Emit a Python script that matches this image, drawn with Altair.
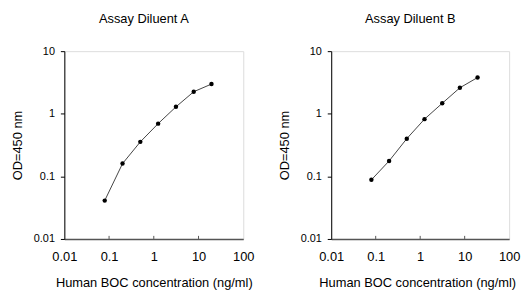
import altair as alt
import pandas as pd

conc = [0.08, 0.2, 0.5, 1.25, 3.13, 7.81, 19.5]
od_a = [0.041, 0.16, 0.356, 0.695, 1.29, 2.25, 2.98]
od_b = [0.088, 0.176, 0.40, 0.82, 1.47, 2.6, 3.79]
x_ticks = [0.01, 0.1, 1, 10, 100]
y_ticks = [0.01, 0.1, 1, 10]
inner_ticks = [0.1, 1, 10]

FONT = "Liberation Sans"


def panel(title, od, width, title_shift):
    df = pd.DataFrame({"conc": conc, "od": od})
    xs = alt.Scale(type="log", domain=[0.01, 100], nice=False)
    ys = alt.Scale(type="log", domain=[0.01, 10], nice=False)
    x = alt.X("conc:Q", scale=xs,
              axis=alt.Axis(values=x_ticks, format="~g", title="Human BOC concentration (ng/ml)",
                            ticks=False, labelPadding=12, titlePadding=13, labelFlush=False,
                            titleX=width / 2 + title_shift,
                            labelFont=FONT, labelFontSize=13, labelColor="black",
                            titleFont=FONT, titleFontSize=13, titleFontWeight="normal",
                            titleColor="black",
                            domainColor="#555555", domainWidth=1.5, grid=False))
    y = alt.Y("od:Q", scale=ys,
              axis=alt.Axis(values=y_ticks, format="~g", title="OD=450 nm",
                            tickSize=4, tickColor="black", labelPadding=6, titlePadding=9,
                            labelFont=FONT, labelFontSize=11, labelColor="black",
                            titleFont=FONT, titleFontSize=13, titleFontWeight="normal",
                            titleColor="black",
                            domainColor="black", domainWidth=1, grid=False))
    line = alt.Chart(df).mark_line(color="#444444", strokeWidth=1).encode(x=x, y=y)
    pts = alt.Chart(df).mark_point(filled=True, color="black", size=20, opacity=1).encode(x="conc:Q", y="od:Q")
    tdf = pd.DataFrame({"t": inner_ticks, "y0": [0.01] * 3, "y1": [0.0112] * 3})
    ticks = alt.Chart(tdf).mark_rule(color="#555555", strokeWidth=1).encode(
        x=alt.X("t:Q", scale=xs), y=alt.Y("y0:Q", scale=ys), y2="y1:Q")
    return alt.layer(line, pts, ticks).properties(
        width=width, height=190,
        title=alt.TitleParams(title, font=FONT, fontSize=13, fontWeight="normal",
                              color="black", offset=19, dx=-10),
    )


chart = alt.hconcat(
    panel("Assay Diluent A", od_a, 181, 0),
    panel("Assay Diluent B", od_b, 180, -3),
    spacing=23,
).properties(
    padding={"left": 3, "top": 3, "right": 0, "bottom": 0}
).configure_view(
    stroke="#808080", strokeWidth=1.5
).configure(background="white")

chart.save("out.html", embed_options={"renderer": "svg", "actions": False})
